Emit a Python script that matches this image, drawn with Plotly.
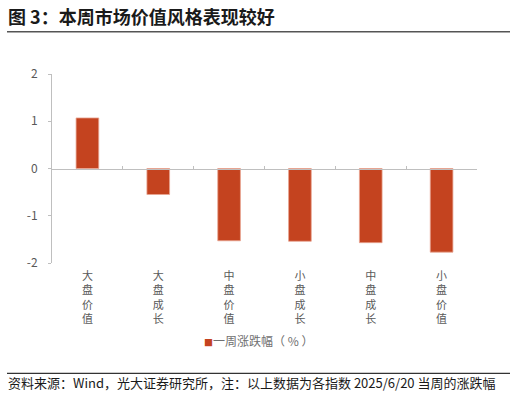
import plotly.graph_objects as go

# ---- data ----
categories = ["大盘价值", "大盘成长", "中盘价值", "小盘成长", "中盘成长", "小盘价值"]
weekly_change = [1.07, -0.55, -1.53, -1.54, -1.57, -1.77]
series_name = "一周涨跌幅（ % ）"
title_text = "图 3：本周市场价值风格表现较好"
source_text = "资料来源：Wind，光大证券研究所，注：以上数据为各指数 2025/6/20 当周的涨跌幅"
y_ticks = [-2, -1, 0, 1, 2]

# ---- layout geometry ----
W, H = 516, 395
ML, MR, MT, MB = 52, 39, 74, 132
PW, PH = W - ML - MR, H - MT - MB


def px_x(px):
    return (px - ML) / PW


def px_y(py):
    return (H - MB - py) / PH


FONT = "Noto Sans CJK SC"
BAR = "#C4431F"
GRID = "#BFBFBF"
TXT = "#595959"

vert_labels = ["<br>".join(list(c)) for c in categories]

fig = go.Figure()
fig.add_trace(go.Bar(
    x=categories, y=weekly_change, name=series_name,
    marker=dict(color=BAR, line=dict(color="#E9A592", width=0.8)),
    showlegend=False, xaxis="x", yaxis="y",
))
# invisible trace to carry the zero-line category axis
fig.add_trace(go.Scatter(
    x=categories, y=[0] * len(categories), mode="markers",
    marker=dict(opacity=0), hoverinfo="skip", showlegend=False,
    xaxis="x2", yaxis="y",
))

fig.update_layout(
    width=W, height=H,
    margin=dict(l=ML, r=MR, t=MT, b=MB, pad=0),
    paper_bgcolor="white", plot_bgcolor="white",
    font=dict(family=FONT, color=TXT, size=12),
    bargap=0.68,
    xaxis=dict(
        type="category", categoryorder="array", categoryarray=categories,
        tickmode="array", tickvals=categories, ticktext=vert_labels,
        showline=False, showgrid=False, zeroline=False, ticks="",
        tickfont=dict(size=11, color=TXT, family=FONT),
        ticklabelstandoff=5,
    ),
    xaxis2=dict(
        type="category", categoryorder="array", categoryarray=categories,
        overlaying="x", matches="x", anchor="free", position=0.5,
        showline=True, linecolor=GRID, linewidth=1,
        ticks="inside", tickson="boundaries", ticklen=3, tickcolor=GRID,
        showticklabels=False, showgrid=False, zeroline=False,
    ),
    yaxis=dict(
        range=[-2, 2], tickvals=y_ticks, ticktext=[str(v) for v in y_ticks],
        showline=True, linecolor=GRID, linewidth=1,
        ticks="outside", ticklen=3, tickcolor=GRID,
        showgrid=False, zeroline=False,
        tickfont=dict(size=12, color=TXT, family=FONT),
        ticklabelstandoff=8,
    ),
    showlegend=False,
)

# title
fig.add_annotation(
    text="<b>" + title_text + "</b>", xref="paper", yref="paper",
    x=px_x(6), y=px_y(15.5), xanchor="left", yanchor="middle",
    showarrow=False, font=dict(size=18, color="#1a1a1a", family=FONT),
)
# legend (marker + label)
fig.add_annotation(
    text=f'<span style="color:{BAR};font-size:9px">■</span>{series_name}',
    xref="paper", yref="paper", x=px_x(258), y=px_y(340.5),
    xanchor="center", yanchor="middle", showarrow=False,
    font=dict(size=12, color="#707070", family=FONT),
)
# source
fig.add_annotation(
    text=source_text, xref="paper", yref="paper",
    x=px_x(6), y=px_y(382.5), xanchor="left", yanchor="middle",
    showarrow=False, font=dict(size=13, color="#1a1a1a", family=FONT),
)
# rule lines
fig.add_shape(type="line", xref="paper", yref="paper",
              x0=px_x(7), x1=px_x(510), y0=px_y(31.7), y1=px_y(31.7),
              line=dict(color="#555555", width=1.5))
fig.add_shape(type="line", xref="paper", yref="paper",
              x0=px_x(7), x1=px_x(510), y0=px_y(373.3), y1=px_y(373.3),
              line=dict(color="#333333", width=1.2))

fig.write_html("out.html")
